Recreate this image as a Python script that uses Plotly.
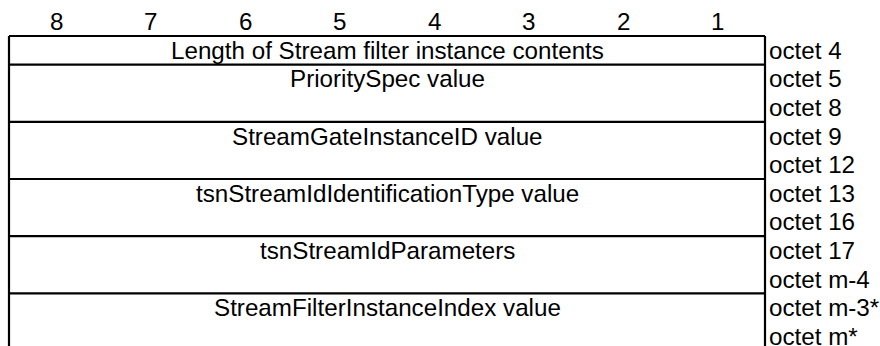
import plotly.graph_objects as go

# ---- data ----
bit_labels = ["8", "7", "6", "5", "4", "3", "2", "1"]
field_names = [
    "Length of Stream filter instance contents",
    "PrioritySpec value",
    "StreamGateInstanceID value",
    "tsnStreamIdIdentificationType value",
    "tsnStreamIdParameters",
    "StreamFilterInstanceIndex value",
]
field_lines = [1, 2, 2, 2, 2, 2]  # height of each field in text lines
octet_labels = [
    ["octet 4"],
    ["octet 5", "octet 8"],
    ["octet 9", "octet 12"],
    ["octet 13", "octet 16"],
    ["octet 17", "octet m-4"],
    ["octet m-3*", "octet m*"],
]

# ---- geometry (pixels) ----
W, H = 880, 346
X0, BIT_W = 9, 94.5
Y0, LINE_H = 36, 28.6
FONT = "Liberation Sans, Arial, sans-serif"
FS = 24.2

x_min = -X0 / BIT_W
x_max = (W - X0) / BIT_W
y_min = -Y0 / LINE_H
y_max = (H - Y0) / LINE_H

fig = go.Figure()
shapes = []
annotations = []

# bit numbers
for i, b in enumerate(bit_labels):
    annotations.append(dict(x=i + 0.5, y=-0.5, text=b, showarrow=False,
                            xanchor="center", yanchor="middle",
                            font=dict(family=FONT, size=FS, color="black")))

line_style = dict(color="black", width=2.2)
# top border
shapes.append(dict(type="line", x0=0, x1=8, y0=0, y1=0, line=line_style, xref="x", yref="y"))
# vertical borders
for xv in (0, 8):
    shapes.append(dict(type="line", x0=xv, x1=xv, y0=0, y1=y_max + 1, line=line_style, xref="x", yref="y"))

top = 0
for name, nl, octs in zip(field_names, field_lines, octet_labels):
    annotations.append(dict(x=4, y=top + 0.5, text=name, showarrow=False,
                            xanchor="center", yanchor="middle",
                            font=dict(family=FONT, size=FS, color="black")))
    for k, o in enumerate(octs):
        annotations.append(dict(x=8.02, y=top + k + 0.5, text=o, showarrow=False,
                                xanchor="left", yanchor="middle",
                                font=dict(family=FONT, size=FS, color="black")))
    top += nl
    if top < y_max - 1:
        shapes.append(dict(type="line", x0=0, x1=8, y0=top, y1=top, line=line_style, xref="x", yref="y"))

fig.update_layout(
    width=W, height=H,
    margin=dict(l=0, r=0, t=0, b=0),
    paper_bgcolor="white", plot_bgcolor="white",
    showlegend=False,
    shapes=shapes, annotations=annotations,
    xaxis=dict(range=[x_min, x_max], visible=False, fixedrange=True),
    yaxis=dict(range=[y_max, y_min], visible=False, fixedrange=True),
)
fig.write_html(
    "out.html",
    config={"displayModeBar": False},
    post_script="document.body.style.margin='0';document.body.style.overflow='hidden';",
)
